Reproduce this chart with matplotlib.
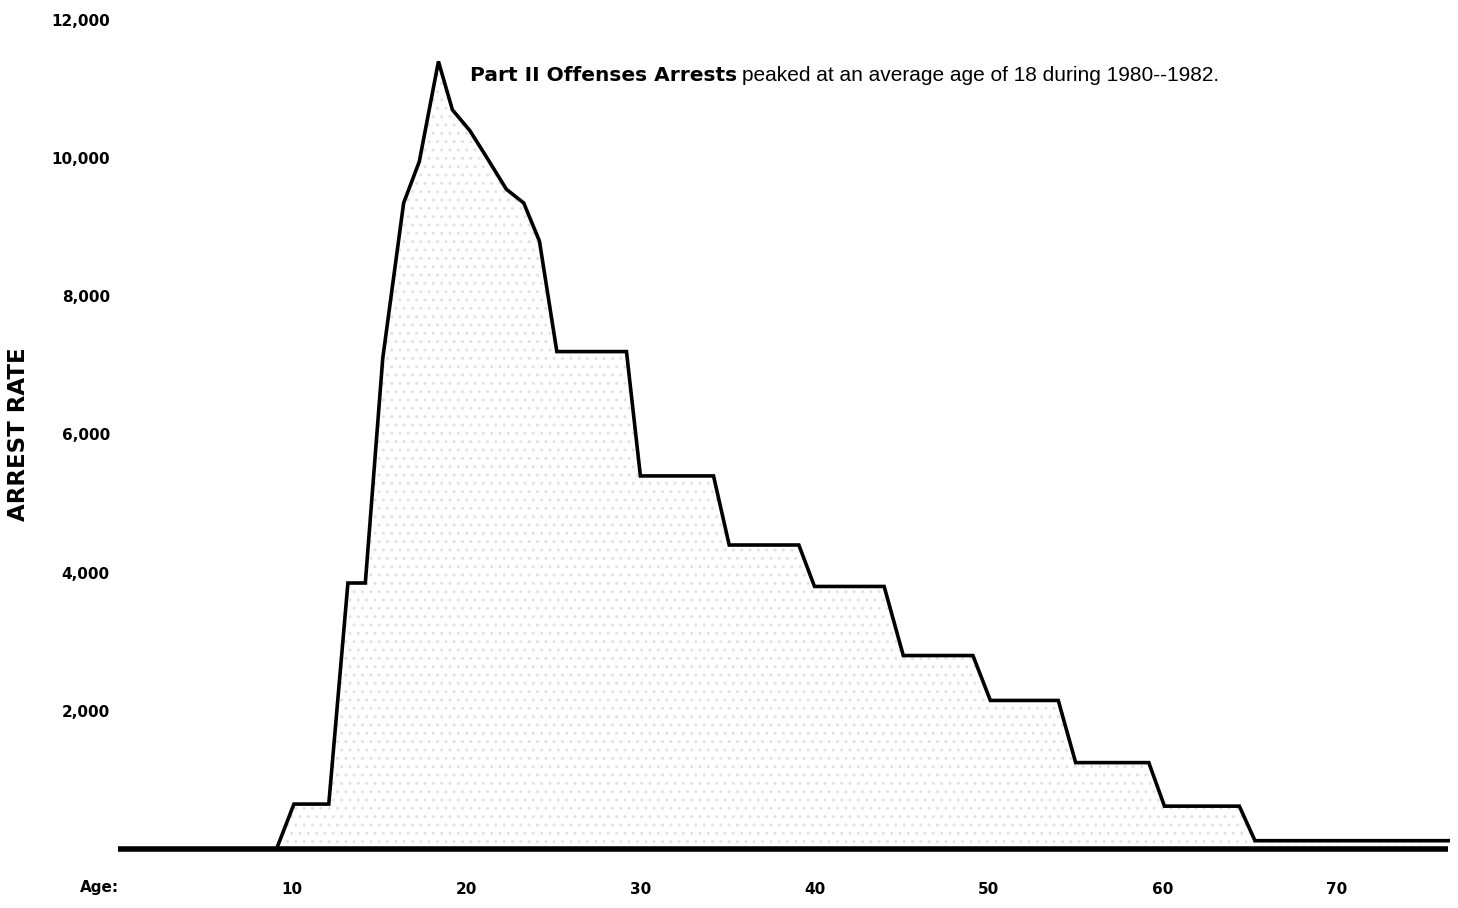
import matplotlib
matplotlib.use("Agg")
import matplotlib.pyplot as plt
import matplotlib.ticker as ticker

# digitised outline of the arrest-rate curve (age, rate per 100,000)
ages = [0, 9.1, 10.1, 12.1, 13.2, 14.2, 15.2, 16.4, 17.3, 18.4, 19.2, 20.2,
        21.2, 22.3, 23.3, 24.2, 25.2, 29.2, 30.0, 34.2, 35.1, 39.1, 40.0,
        44.0, 45.1, 49.1, 50.1, 54.0, 55.0, 59.2, 60.1, 64.4, 65.3, 76.4]
rates = [0, 0, 650, 650, 3850, 3850, 7100, 9350, 9950, 11400, 10700, 10400,
         10000, 9550, 9350, 8800, 7200, 7200, 5400, 5400, 4400, 4400, 3800,
         3800, 2800, 2800, 2150, 2150, 1250, 1250, 620, 620, 120, 120]

y_ticks = [2000, 4000, 6000, 8000, 10000, 12000]
x_ticks = [10, 20, 30, 40, 50, 60, 70]

fig = plt.figure(figsize=(14.58, 9.08), dpi=100)
ax = fig.add_axes([0.081, 0.065, 0.9135, 0.913])

ax.fill_between(ages, rates, 0, facecolor="white", hatch="..",
                edgecolor="#e2e2e2", linewidth=0)
ax.plot(ages, rates, color="black", lw=2.6, solid_joinstyle="miter")
ax.plot([ages[0], ages[-1]], [0, 0], color="black", lw=4,
        solid_capstyle="butt", clip_on=False)

ax.set_xlim(0, 76.5)
ax.set_ylim(0, 12000)
for s in ax.spines.values():
    s.set_visible(False)

ax.set_yticks(y_ticks)
ax.yaxis.set_major_formatter(ticker.StrMethodFormatter("{x:,.0f}"))
ax.set_xticks(x_ticks)
ax.tick_params(length=0)
ax.tick_params(axis="y", pad=6)
ax.tick_params(axis="x", pad=24)
for lab in ax.get_xticklabels() + ax.get_yticklabels():
    lab.set_fontweight("bold")
    lab.set_fontsize(11)

ax.set_ylabel("ARREST RATE", fontsize=16.5, fontweight="bold")
ax.yaxis.set_label_coords(-0.066, 0.5)
fig.text(0.055, 0.023, "Age:", fontsize=11, fontweight="bold", va="center")

# two-part annotation: bold lead-in followed by regular text
t1 = ax.text(20.2, 11200, "Part II Offenses Arrests", fontsize=14.5,
             fontweight="bold", va="center")
fig.canvas.draw()
bb = t1.get_window_extent()
x_next = ax.transData.inverted().transform((bb.x1 + 5, bb.y0))[0]
ax.text(x_next, 11200, "peaked at an average age of 18 during 1980--1982.",
        fontsize=15, family="Liberation Sans", va="center")

fig.savefig("out.png", dpi=100, facecolor="white")
